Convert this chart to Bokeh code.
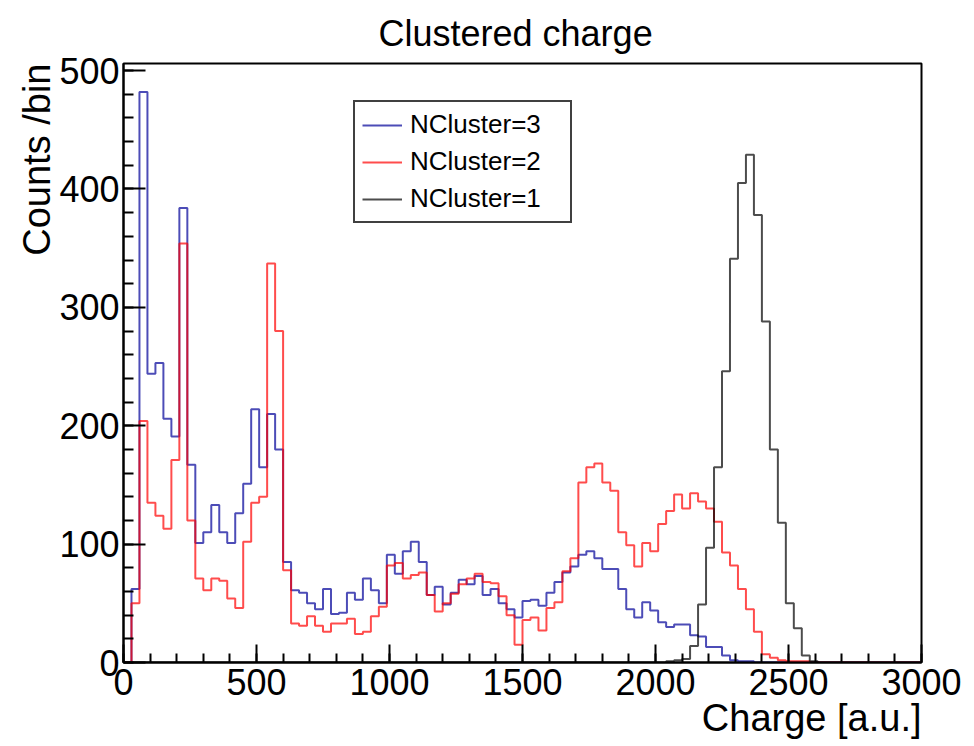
from bokeh.plotting import figure
from bokeh.models import Range1d, FixedTicker, Legend, LegendItem, Title
from bokeh.embed import file_html
from bokeh.resources import INLINE

# ---- binning (100 bins of 30 a.u. between 0 and 3000) ----
bin_width = 30
n_bins = 100
bin_edges = [i * bin_width for i in range(n_bins + 1)]

# ---- counts per bin ----
ncluster3 = [
    0, 62, 482, 244, 253, 206, 191, 384, 167, 101,
    110, 133, 110, 101, 126, 151, 214, 165, 210, 180,
    85, 61, 59, 50, 45, 62, 41, 42, 59, 53,
    71, 61, 50, 91, 75, 94, 102, 85, 57, 64,
    49, 59, 70, 66, 73, 57, 62, 50, 45, 38,
    52, 53, 48, 59, 68, 76, 81, 91, 94, 88,
    79, 79, 62, 45, 38, 51, 44, 34, 30, 32,
    32, 23, 22, 13, 13, 6, 2, 1, 1, 0,
    0, 0, 0, 0, 0, 0, 0, 0, 0, 0,
    0, 0, 0, 0, 0, 0, 0, 0, 0, 0,
]
ncluster2 = [
    0, 50, 204, 135, 124, 113, 171, 354, 120, 71,
    61, 71, 69, 54, 46, 102, 135, 140, 337, 280,
    78, 33, 31, 39, 31, 26, 33, 33, 37, 24,
    26, 39, 47, 82, 84, 71, 74, 76, 57, 43,
    50, 58, 66, 71, 75, 68, 67, 56, 40, 15,
    36, 38, 27, 46, 51, 77, 88, 152, 165, 168,
    152, 145, 110, 99, 81, 101, 94, 117, 128, 142,
    130, 143, 136, 130, 119, 93, 82, 62, 45, 26,
    7, 4, 2, 1, 1, 1, 0, 0, 0, 0,
    0, 0, 0, 0, 0, 0, 0, 0, 0, 0,
]
ncluster1 = [
    0, 0, 0, 0, 0, 0, 0, 0, 0, 0,
    0, 0, 0, 0, 0, 0, 0, 0, 0, 0,
    0, 0, 0, 0, 0, 0, 0, 0, 0, 0,
    0, 0, 0, 0, 0, 0, 0, 0, 0, 0,
    0, 0, 0, 0, 0, 0, 0, 0, 0, 0,
    0, 0, 0, 0, 0, 0, 0, 0, 0, 0,
    0, 0, 0, 0, 0, 0, 0, 0, 1, 2,
    3, 14, 49, 97, 165, 246, 341, 405, 429, 378,
    288, 180, 118, 50, 29, 6, 1, 0, 0, 0,
    0, 0, 0, 0, 0, 0, 0, 0, 0, 0,
]

series_labels = ["NCluster=3", "NCluster=2", "NCluster=1"]
series_colors = ["#000099", "#ff0000", "#000000"]

x_ticks = [0, 500, 1000, 1500, 2000, 2500, 3000]
x_minor = list(range(0, 3001, 100))
y_ticks = [0, 100, 200, 300, 400, 500]
y_minor = list(range(0, 507, 20))

title_text = "Clustered charge"
x_title = "Charge [a.u.]"
y_title = "Counts /bin"

FONT = "Liberation Sans"

p = figure(
    width=974, height=746,
    x_range=Range1d(0, 3000), y_range=Range1d(0, 506),
    output_backend="svg", toolbar_location=None,
    min_border_left=123, min_border_right=53,
    min_border_top=63, min_border_bottom=84,
)
p.background_fill_color = "white"
p.border_fill_color = "white"
p.outline_line_color = "black"
p.outline_line_width = 2
p.xgrid.visible = False
p.ygrid.visible = False

p.title.text = title_text
p.title.align = "left"
p.title.offset = 255
p.title.standoff = 20
p.title.text_font = FONT
p.title.text_font_size = "36px"
p.title.text_font_style = "normal"
p.title.text_color = "black"

for ax in (p.xaxis[0], p.yaxis[0]):
    ax.axis_line_color = "black"
    ax.axis_line_width = 2
    ax.major_tick_line_color = "black"
    ax.minor_tick_line_color = "black"
    ax.major_tick_line_width = 2
    ax.minor_tick_line_width = 2
    ax.major_tick_out = 0
    ax.minor_tick_out = 0
    ax.major_label_text_font = FONT
    ax.major_label_text_font_size = "36px"
    ax.major_label_text_color = "black"

p.xaxis[0].ticker = FixedTicker(ticks=x_ticks, minor_ticks=x_minor)
p.yaxis[0].ticker = FixedTicker(ticks=y_ticks, minor_ticks=y_minor)
p.xaxis[0].major_tick_in = 18
p.xaxis[0].minor_tick_in = 9
p.yaxis[0].major_tick_in = 22
p.yaxis[0].minor_tick_in = 10
p.xaxis[0].major_label_standoff = 6
p.yaxis[0].major_label_standoff = 4

p.add_layout(Title(text=x_title, align="right", standoff=-6,
                   text_font=FONT, text_font_size="38px",
                   text_font_style="normal", text_color="black"), "below")
p.add_layout(Title(text=y_title, align="right", standoff=-2,
                   text_font=FONT, text_font_size="38px",
                   text_font_style="normal", text_color="black"), "left")

renderers = []
for vals, col in zip([ncluster3, ncluster2, ncluster1], series_colors):
    yv = list(vals) + [vals[-1]]
    r = p.step(bin_edges, yv, mode="after", line_color=col, line_alpha=0.7, line_width=2)
    renderers.append(r)

legend = Legend(
    items=[LegendItem(label=lab, renderers=[r]) for lab, r in zip(series_labels, renderers)],
    location=(230, 439),
    border_line_color="black", border_line_width=2, border_line_alpha=0.75,
    background_fill_color="white", background_fill_alpha=1,
    label_text_font=FONT, label_text_font_size="26px", label_text_color="black",
    glyph_width=40, glyph_height=30, label_height=30, label_width=153,
    spacing=6, padding=7, margin=0, label_standoff=8,
)
p.add_layout(legend)

open("out.html", "w").write(file_html(p, INLINE))
